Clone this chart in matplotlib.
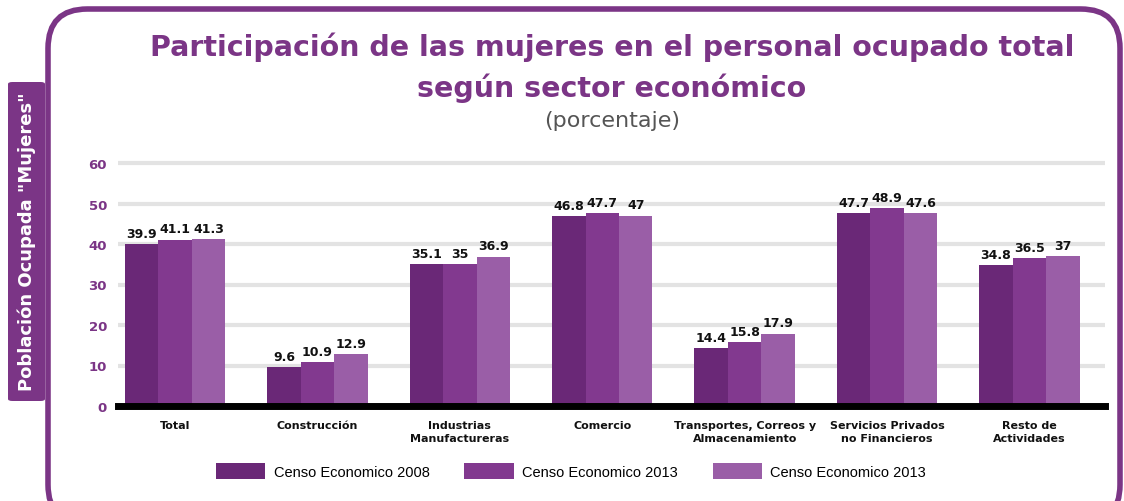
import matplotlib
matplotlib.use("Agg")
import matplotlib.pyplot as plt
import numpy as np
from matplotlib.patches import FancyBboxPatch

categories = ["Total", "Construcción", "Industrias\nManufactureras", "Comercio",
              "Transportes, Correos y\nAlmacenamiento", "Servicios Privados\nno Financieros",
              "Resto de\nActividades"]
series_names = ["Censo Economico 2008", "Censo Economico 2013", "Censo Economico 2013"]
censo_2008 = [39.9, 9.6, 35.1, 46.8, 14.4, 47.7, 34.8]
censo_2013a = [41.1, 10.9, 35, 47.7, 15.8, 48.9, 36.5]
censo_2013b = [41.3, 12.9, 36.9, 47, 17.9, 47.6, 37]
yticks = [0, 10, 20, 30, 40, 50, 60]

colors = ["#6a2877", "#82398f", "#9a5ea7"]
purple = "#7b3586"

W, H = 1124, 502
fig = plt.figure(figsize=(W / 100, H / 100), dpi=100)

def fx(px):
    return px / W

def fy(py):
    return 1 - py / H

# rounded border
border = FancyBboxPatch((fx(48), fy(525)), fx(1120) - fx(48), fy(10) - fy(525),
                        boxstyle="round,pad=0,rounding_size=0.035",
                        transform=fig.transFigure, fill=False,
                        edgecolor=purple, linewidth=4, mutation_aspect=W / H,
                        clip_on=False)
fig.patches.append(border)

# left tab
tab = FancyBboxPatch((fx(8), fy(402)), fx(45) - fx(8), fy(83) - fy(402),
                     boxstyle="round,pad=0,rounding_size=0.004",
                     transform=fig.transFigure, facecolor=purple, edgecolor="none")
fig.patches.append(tab)
fig.text(fx(27), fy(242), 'Población Ocupada "Mujeres"', rotation=90,
         color="white", fontsize=13, fontweight="bold", ha="center", va="center")

# titles
fig.text(fx(612), fy(47), "Participación de las mujeres en el personal ocupado total",
         color=purple, fontsize=20.5, fontweight="bold", ha="center", va="center")
fig.text(fx(612), fy(88), "según sector económico",
         color=purple, fontsize=20.5, fontweight="bold", ha="center", va="center")
fig.text(fx(612), fy(121), "(porcentaje)", color="#555555", fontsize=16,
         ha="center", va="center")

# axes
ax_left, ax_right = 118, 1105
y0_px, y60_px = 407, 164
ymax = 61.5
top_px = y0_px - (y0_px - y60_px) * ymax / 60
ax = fig.add_axes([fx(ax_left), fy(y0_px), fx(ax_right) - fx(ax_left), fy(top_px) - fy(y0_px)])

x = np.arange(len(categories))
bw = 0.235
series = [censo_2008, censo_2013a, censo_2013b]
handles = []
for i, (vals, c, name) in enumerate(zip(series, colors, series_names)):
    b = ax.bar(x + (i - 1) * bw, vals, width=bw, color=c, label=name, zorder=3)
    ax.bar_label(b, labels=[f"{v:g}" for v in vals], padding=3, fontsize=9,
                 fontweight="bold", color="#111111")
    handles.append(b)

ax.set_xlim(-0.40, 6.53)
ax.set_ylim(0, ymax)
ax.set_yticks(yticks)
ax.set_yticklabels([str(t) for t in yticks], color=purple, fontweight="bold", fontsize=9.5)
for t in yticks[1:]:
    ax.axhline(t, color="#e3e3e3", linewidth=3, zorder=1)
ax.axhline(0, color="black", linewidth=5, zorder=4, clip_on=False)
ax.set_xticks(x)
ax.set_xticklabels(categories, fontsize=8, fontweight="bold", color="#111111",
                   linespacing=1.45)
ax.tick_params(axis="both", length=0)
ax.tick_params(axis="y", pad=8)
ax.tick_params(axis="x", pad=10)
for s in ax.spines.values():
    s.set_visible(False)
ax.set_facecolor("none")

fig.legend(handles=handles, labels=series_names, loc="center",
           bbox_to_anchor=(fx(571), fy(472)), ncol=3, frameon=False,
           prop={"family": ["Liberation Sans", "DejaVu Sans"], "size": 10.5},
           handlelength=3.4, handleheight=1.25, handletextpad=0.55, columnspacing=2.4)

fig.savefig("out.png", dpi=100)
